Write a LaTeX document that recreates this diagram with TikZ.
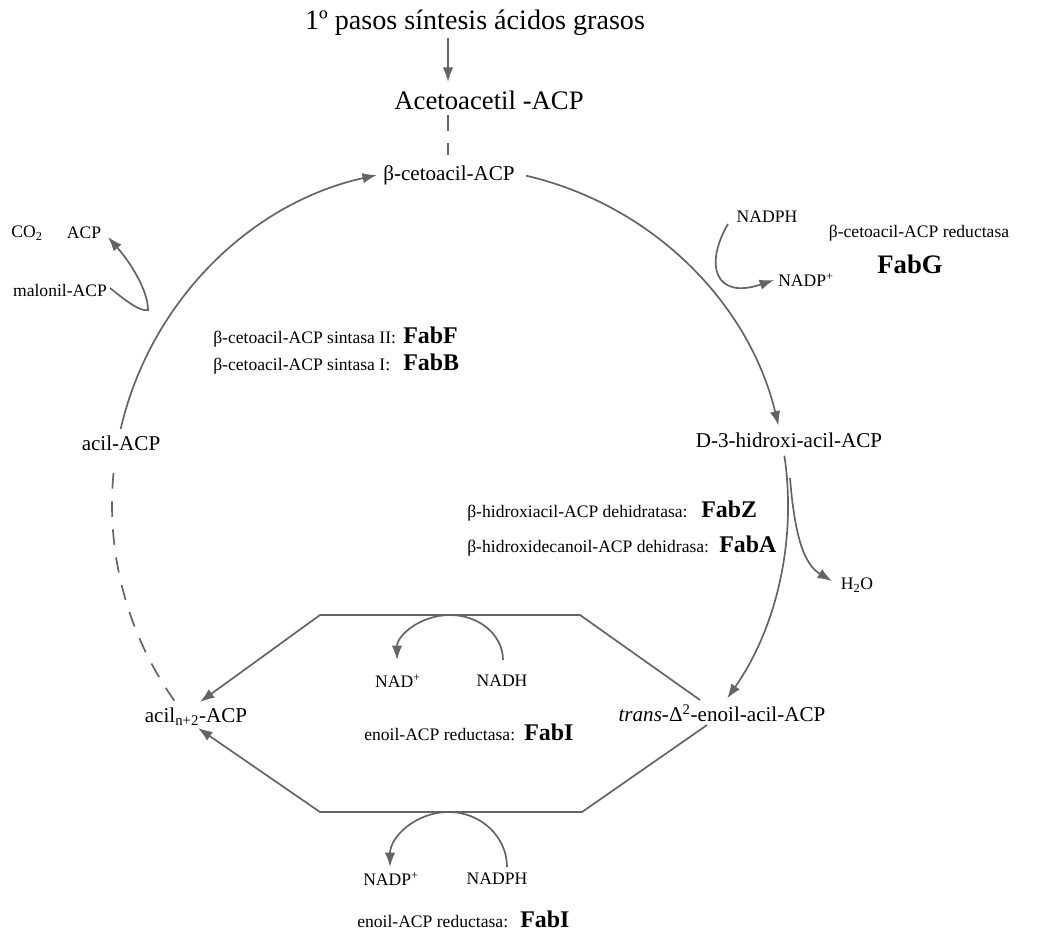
\documentclass[tikz,border=0pt]{standalone}
\usepackage{fontspec}
\setmainfont{Liberation Serif}
\usetikzlibrary{arrows.meta}
\definecolor{gris}{RGB}{100,100,100}
\tikzstyle{titulo} = [font={\fontsize{20}{24}\selectfont}, inner sep=1pt]
\tikzstyle{grande} = [font={\fontsize{19}{22}\selectfont}, inner sep=1pt]
\tikzstyle{metab} = [font={\fontsize{15}{18}\selectfont}, inner sep=1pt]
\tikzstyle{etiq} = [font={\fontsize{12.5}{15}\selectfont}, inner sep=0pt]
\tikzstyle{enz} = [font={\fontsize{19}{22}\selectfont\bfseries}, inner sep=0pt]
\tikzstyle{enzm} = [font={\fontsize{17}{20}\selectfont\bfseries}, inner sep=0pt]
\tikzstyle{traza} = [draw=gris, line width=1.2pt]
\tikzstyle{flecha} = [traza, -{Latex[length=3.6mm,width=2.6mm]}]
\tikzstyle{punteada} = [traza, dash pattern=on 11pt off 9pt]

\begin{document}
\begin{tikzpicture}[x=0.025cm,y=0.025cm]
    \useasboundingbox (0,0) rectangle (1043,-936);
    \node[titulo](inicio) at (475,-23){1º pasos síntesis ácidos grasos};
    \node[grande](acetoacetil) at (489,-100){Acetoacetil -ACP};
    \node[metab](cetoacil) at (449,-175){β-cetoacil-ACP};
    \node[metab](hidroxi) at (789,-440){D-3-hidroxi-acil-ACP};
    \node[metab](enoil) at (722,-713){\textit{trans}-Δ\textsuperscript{2}-enoil-acil-ACP};
    \node[metab](aciln) at (196,-717){acil\textsubscript{n+2}-ACP};
    \node[metab](acil) at (121,-443){acil-ACP};
    \node[etiq](co2) at (27,-233){CO\textsubscript{2}};
    \node[etiq](acp) at (84,-233){ACP};
    \node[etiq](malonil) at (60,-290){malonil-ACP};
    \node[etiq](nadph) at (767,-217){NADPH};
    \node[etiq](nadp) at (806,-280){NADP\textsuperscript{+}};
    \node[etiq](redG) at (919,-233){β-cetoacil-ACP reductasa};
    \node[enz](fabG) at (910,-264){FabG};
    \node[etiq](h2o) at (857,-585){H\textsubscript{2}O};
    \node[etiq,anchor=base west](sintII) at (213,-343){β-cetoacil-ACP sintasa II:};
    \node[enzm,anchor=base west](fabF) at (403,-343){FabF};
    \node[etiq,anchor=base west](sintI) at (213,-370){β-cetoacil-ACP sintasa I:};
    \node[enzm,anchor=base west](fabB) at (403,-370){FabB};
    \node[etiq,anchor=base west](dehZ) at (467,-517){β-hidroxiacil-ACP dehidratasa:};
    \node[enzm,anchor=base west](fabZ) at (701,-517){FabZ};
    \node[etiq,anchor=base west](dehA) at (467,-552){β-hidroxidecanoil-ACP dehidrasa:};
    \node[enzm,anchor=base west](fabA) at (719,-552){FabA};
    \node[etiq](nad) at (398,-681){NAD\textsuperscript{+}};
    \node[etiq](nadh) at (502,-681){NADH};
    \node[etiq,anchor=base west](redI) at (364,-740){enoil-ACP reductasa:};
    \node[enzm,anchor=base west](fabI) at (524,-740){FabI};
    \node[etiq](nadpb) at (391,-879){NADP\textsuperscript{+}};
    \node[etiq](nadphb) at (497,-879){NADPH};
    \node[etiq,anchor=base west](redIb) at (357,-927){enoil-ACP reductasa:};
    \node[enzm,anchor=base west](fabIb) at (520,-927){FabI};
    \coordinate (c) at (450,-505);
    \coordinate (e1) at (700,-700);
    \coordinate (e2) at (707,-725);
    \coordinate (s1) at (580,-615);
    \coordinate (s2) at (320,-615);
    \coordinate (i1) at (582,-812);
    \coordinate (i2) at (320,-812);
    \coordinate (a1) at (200,-702);
    \coordinate (a2) at (198,-728);
    \draw[flecha,shorten >=5pt](inicio.south -| 448,0)--(acetoacetil.north -| 448,0);
    \draw[punteada,shorten <=3pt,shorten >=6pt](acetoacetil.south -| 448,0)--(cetoacil.north -| 448,0);
    \draw[flecha](c) ++(167:338) arc (167:102.5:338);
    \draw[flecha](c) ++(77:338) arc (77:13.6:338);
    \draw[flecha](c) ++(8.4:338) arc (8.4:-34.9:338);
    \draw[punteada](c) ++(174.6:338) arc (174.6:215.7:338);
    \draw[flecha](110,-288) .. controls (125,-300) and (140,-312) .. (148,-310) .. controls (148,-290) and (130,-262) .. (108,-237);
    \draw[flecha](728,-224) .. controls (704,-265) and (715,-300) .. (774,-280);
    \draw[flecha](790,-478) .. controls (795,-540) and (805,-565) .. (832,-581);
    \draw[flecha](e1)--(s1)--(s2)--(a1);
    \draw[flecha](e2)--(i1)--(i2)--(a2);
    \draw[flecha](503,-660) arc[start angle=0,end angle=180,x radius=53,y radius=45];
    \draw[flecha](507,-867) arc[start angle=0,end angle=180,x radius=58.5,y radius=55];
  \end{tikzpicture}
\end{document}
